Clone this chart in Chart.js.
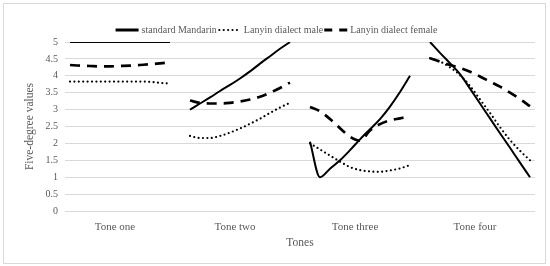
<!DOCTYPE html>
<html>
<head>
<meta charset="utf-8">
<script src="https://cdn.jsdelivr.net/npm/chart.js@4/dist/chart.umd.min.js"></script>
<style>
  html, body { margin: 0; padding: 0; background: #fff; }
</style>
</head>
<body>
<canvas id="toneChart" width="550" height="266"></canvas>
<script>
// tone groups and series names
const toneNames = ['Tone one', 'Tone two', 'Tone three', 'Tone four'];
const seriesNames = ['standard Mandarin', 'Lanyin dialect male', 'Lanyin dialect female'];
const yTickValues = [0, 0.5, 1, 1.5, 2, 2.5, 3, 3.5, 4, 4.5, 5];

// five-degree values, 11 samples per tone
const mandarinTones = [
  [5, 5, 5, 5, 5, 5, 5, 5, 5, 5, 5],
  [3.0, 3.18, 3.36, 3.55, 3.73, 3.92, 4.13, 4.36, 4.58, 4.8, 5.0],
  [2.05, 1.0, 1.25, 1.5, 1.8, 2.12, 2.42, 2.72, 3.09, 3.52, 4.0],
  [5.0, 4.68, 4.37, 4.05, 3.62, 3.18, 2.74, 2.3, 1.87, 1.43, 1.0]
];
const maleTones = [
  [3.83, 3.83, 3.83, 3.83, 3.83, 3.83, 3.83, 3.83, 3.82, 3.79, 3.77],
  [2.22, 2.16, 2.16, 2.22, 2.32, 2.44, 2.58, 2.73, 2.9, 3.06, 3.2],
  [2.0, 1.82, 1.64, 1.46, 1.3, 1.21, 1.17, 1.16, 1.2, 1.26, 1.36],
  [4.52, 4.42, 4.25, 4.02, 3.7, 3.3, 2.9, 2.48, 2.1, 1.78, 1.5]
];
const femaleTones = [
  [4.32, 4.3, 4.29, 4.28, 4.28, 4.29, 4.3, 4.32, 4.34, 4.37, 4.4],
  [3.27, 3.2, 3.18, 3.18, 3.2, 3.24, 3.3, 3.38, 3.5, 3.64, 3.8],
  [3.08, 2.95, 2.72, 2.45, 2.2, 2.08, 2.38, 2.57, 2.68, 2.74, 2.8],
  [4.52, 4.42, 4.32, 4.23, 4.12, 3.98, 3.83, 3.68, 3.5, 3.31, 3.1]
];

// join the tone groups with an empty slot between them
function flatten(groups) {
  const out = [];
  groups.forEach((g, i) => {
    out.push(...g);
    if (i < groups.length - 1) out.push(null);
  });
  return out;
}

const labels = flatten(toneNames.map(name =>
  mandarinTones[0].map((v, j) => (j === 5 ? name : ''))
)).map(l => (l === null ? '' : l));

const textColor = '#595959';
const serif = "'Liberation Serif', 'Times New Roman', serif";

// legend sample styles (drawn by hand so the dashes show)
const legendDash = [[], [0, 4.4], [8, 7]];
const legendWidth = [3, 2.2, 3];

const borderPlugin = {
  id: 'outerBorder',
  afterLayout(chart) {
    // legend sits a little right of the plot centre in the original
    chart.legend.left += 9;
    chart.legend.right += 9;
  },
  beforeDraw(chart) {
    const c = chart.ctx;
    c.save();
    c.fillStyle = '#fff';
    c.fillRect(0, 0, chart.width, chart.height);
    c.strokeStyle = '#d9d9d9';
    c.lineWidth = 1;
    c.strokeRect(3.5, 3.5, 542, 260);
    c.restore();
  },
  afterDraw(chart) {
    const boxes = chart.legend.legendHitBoxes;
    const c = chart.ctx;
    c.save();
    c.strokeStyle = '#000';
    boxes.forEach((b, i) => {
      const y = b.top + b.height / 2;
      c.beginPath();
      c.lineWidth = legendWidth[i];
      c.setLineDash(legendDash[i]);
      c.lineCap = i === 1 ? 'round' : 'butt';
      c.moveTo(b.left + (i === 1 ? 1.5 : 0), y);
      c.lineTo(b.left + 23, y);
      c.stroke();
    });
    c.restore();
  }
};

function lineSet(label, data, width, dash, cap) {
  return {
    label: label,
    data: flatten(data),
    borderColor: '#000',
    backgroundColor: '#000',
    borderWidth: width,
    borderDash: dash,
    borderCapStyle: cap,
    pointRadius: 0,
    fill: false,
    spanGaps: false,
    cubicInterpolationMode: 'monotone'
  };
}

new Chart(document.getElementById('toneChart'), {
  type: 'line',
  data: {
    labels: labels,
    datasets: [
      lineSet(seriesNames[0], mandarinTones, 2, [], 'butt'),
      lineSet(seriesNames[1], maleTones, 2.2, [0, 4.4], 'round'),
      lineSet(seriesNames[2], femaleTones, 2.7, [10, 7], 'butt')
    ]
  },
  options: {
    responsive: false,
    animation: false,
    layout: { padding: { top: 24, left: 0, right: 15, bottom: 16 } },
    plugins: {
      tooltip: { enabled: false },
      legend: {
        position: 'top',
        maxHeight: 18,
        labels: {
          boxWidth: 21,
          boxHeight: 10,
          padding: 1,
          color: textColor,
          font: { family: serif, size: 10 },
          generateLabels: chart => chart.data.datasets.map((ds, i) => ({
            text: ds.label,
            fillStyle: 'rgba(0,0,0,0)',
            strokeStyle: 'rgba(0,0,0,0)',
            lineWidth: 0,
            fontColor: textColor,
            datasetIndex: i
          }))
        }
      }
    },
    scales: {
      x: {
        type: 'category',
        offset: true,
        grid: { display: false },
        border: { display: false },
        ticks: {
          autoSkip: false,
          maxRotation: 0,
          padding: 2,
          labelOffset: -5,
          color: textColor,
          font: { family: serif, size: 11 }
        },
        title: {
          display: true,
          text: 'Tones',
          color: textColor,
          font: { family: serif, size: 11.5 },
          padding: { top: 0, bottom: 0 }
        },
        afterFit: s => { s.height = 39; }
      },
      y: {
        min: 0,
        max: 5,
        afterBuildTicks: s => { s.ticks = yTickValues.map(v => ({ value: v })); },
        grid: { color: '#d9d9d9', drawTicks: false },
        border: { display: false },
        ticks: {
          padding: 7,
          color: textColor,
          font: { family: serif, size: 10 },
          callback: v => String(v)
        },
        title: {
          display: true,
          text: 'Five-degree values',
          color: textColor,
          font: { family: serif, size: 11.5 },
          padding: { top: 23, bottom: 0 }
        },
        afterFit: s => { s.width = 65; }
      }
    }
  },
  plugins: [borderPlugin]
});
</script>
</body>
</html>
